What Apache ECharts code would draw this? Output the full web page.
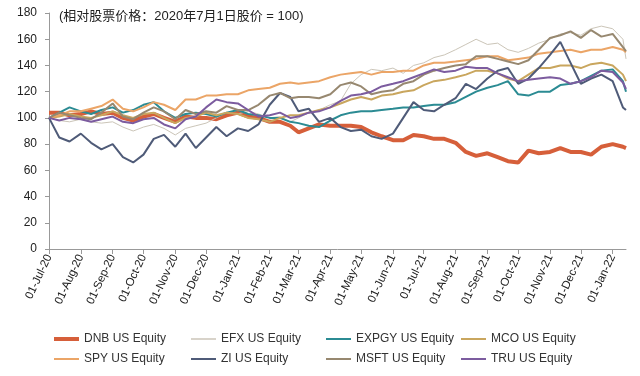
<!DOCTYPE html>
<html><head><meta charset="utf-8">
<script src="https://cdn.jsdelivr.net/npm/echarts@6/dist/echarts.min.js"></script>
<style>html,body{margin:0;padding:0;background:#fff}#c{width:640px;height:376px}</style>
</head><body><div id="c"></div>
<script>
const sampleDates = [
 '2020-07-01','2020-07-11','2020-07-21','2020-08-01','2020-08-11','2020-08-21','2020-09-01','2020-09-11','2020-09-21',
 '2020-10-01','2020-10-11','2020-10-21','2020-11-01','2020-11-11','2020-11-21','2020-12-01','2020-12-11','2020-12-21',
 '2021-01-01','2021-01-11','2021-01-21','2021-02-01','2021-02-11','2021-02-21','2021-03-01','2021-03-11','2021-03-21',
 '2021-04-01','2021-04-11','2021-04-21','2021-05-01','2021-05-11','2021-05-21','2021-06-01','2021-06-11','2021-06-21',
 '2021-07-01','2021-07-11','2021-07-21','2021-08-01','2021-08-11','2021-08-21','2021-09-01','2021-09-11','2021-09-21',
 '2021-10-01','2021-10-11','2021-10-21','2021-11-01','2021-11-11','2021-11-21','2021-12-01','2021-12-11','2021-12-21',
 '2022-01-01','2022-01-11','2022-01-14'];
const dnb  = [104,104,102,103,105,103,104,100,98,101,103,100,97,101,100,100,99,102,104,101,100,97,97,94,89,92,95,94,94,94,93,89,86,83,83,87,86,84,84,81,74,71,73,70,67,66,75,73,74,77,74,74,72,78,80,78,77];
const efx  = [100,98,97,99,97,96,97,93,90,93,95,92,87,92,94,96,100,104,103,105,103,100,101,97,100,104,106,110,113,126,133,137,136,138,134,140,142,146,148,152,156,160,156,157,152,150,153,157,160,164,165,163,168,170,168,160,145];
const expgy= [100,104,108,105,103,106,108,104,106,110,112,105,100,103,104,103,101,104,106,103,102,100,100,97,96,94,93,98,102,104,105,105,106,107,108,108,109,110,110,112,116,120,123,125,128,118,117,120,120,125,126,128,132,136,137,128,120];
const mco  = [100,101,103,101,100,102,105,102,100,103,104,100,96,100,101,104,102,104,103,100,99,97,100,102,102,104,106,108,111,114,116,114,117,118,120,121,125,128,129,131,133,136,136,134,130,128,133,138,138,140,140,138,141,142,140,133,128];
const spy  = [100,102,105,105,107,109,114,107,105,108,112,110,106,114,114,117,117,118,118,121,122,123,126,127,126,127,128,131,133,134,135,133,135,135,136,136,140,142,142,143,144,145,147,147,144,145,146,149,150,151,152,150,152,152,154,152,150];
const zi   = [100,85,82,88,81,76,80,70,66,72,84,87,78,88,77,85,93,86,92,90,95,110,119,116,105,107,97,100,93,90,91,86,84,88,100,112,106,105,110,115,126,122,130,136,138,126,130,138,148,158,142,126,130,133,128,108,106];
const msft = [100,104,102,100,99,104,111,101,99,104,108,105,99,106,103,105,104,109,106,106,110,117,119,115,116,116,115,118,125,127,124,118,120,121,126,128,133,136,138,140,141,147,147,145,143,141,144,152,161,163,166,161,167,162,164,154,151];
const tru  = [100,98,100,99,97,99,101,97,96,99,100,95,92,99,101,108,114,112,111,106,101,102,104,100,101,104,105,108,113,117,118,120,124,126,128,131,134,137,135,136,139,138,138,134,131,128,129,130,131,130,126,128,131,136,135,127,122];
const seriesNames = ['DNB US Equity','EFX US Equity','EXPGY US Equity','MCO US Equity','SPY US Equity','ZI US Equity','MSFT US Equity','TRU US Equity'];
const seriesValues = [dnb, efx, expgy, mco, spy, zi, msft, tru];
const yTicks = [0,20,40,60,80,100,120,140,160,180];
const titleText = '(相对股票价格：2020年7月1日股价 = 100)';
const startDate = '2020-07-01', endDate = '2022-01-14';

const colors = ['#D65F3A','#CBC5B8','#2B8B93','#C9A65E','#EBA567','#4F5B78','#978870','#7C5C9F'];
const widths = [4,1,2,2,2,2,2,2];
const months = ['Jan','Feb','Mar','Apr','May','Jun','Jul','Aug','Sep','Oct','Nov','Dec'];

const days = [];
(function(){
  let d = new Date(startDate + 'T00:00:00Z');
  const e = new Date(endDate + 'T00:00:00Z');
  while (d <= e) { days.push(d.toISOString().slice(0,10)); d = new Date(d.getTime() + 86400000); }
})();
const dayIndex = {}; days.forEach((d,i)=>dayIndex[d]=i);

const series = seriesNames.map((name, si) => {
  const arr = new Array(days.length).fill(null);
  sampleDates.forEach((sd, k) => { arr[dayIndex[sd]] = seriesValues[si][k]; });
  return {
    name, type: 'line', data: arr, connectNulls: true, symbol: 'none', showSymbol: false,
    lineStyle: { color: colors[si], width: widths[si] }, itemStyle: { color: colors[si] },
    emphasis: { disabled: true }, animation: false, z: si === 0 ? 1 : 2
  };
});

const legendCols = [54, 191, 326, 461];
const legendRows = [332, 352];
const legends = seriesNames.map((name, i) => ({
  data: [{ name, icon: 'rect' }], left: legendCols[i % 4], top: legendRows[Math.floor(i / 4)],
  itemWidth: 25, itemHeight: Math.max(widths[i], 1.5), padding: 0, selectedMode: false,
  itemStyle: { color: colors[i], borderWidth: 0 },
  textStyle: { fontSize: 12, color: '#333', fontFamily: 'Liberation Sans, Arial, sans-serif', lineHeight: 14 }
}));

const isMonthStart = (idx, v) => v.slice(8) === '01';
const chart = echarts.init(document.getElementById('c'), null, { renderer: 'canvas' });
chart.setOption({
  animation: false,
  backgroundColor: '#fff',
  title: { text: titleText, left: 54, top: 5, textStyle: { fontSize: 13, fontWeight: 'normal', color: '#222', fontFamily: 'Liberation Sans, Noto Sans CJK SC, sans-serif' } },
  legend: legends,
  grid: { left: 49, right: 14, top: 13, bottom: 127 },
  xAxis: {
    type: 'category', data: days, boundaryGap: false,
    axisLine: { lineStyle: { color: '#999' } },
    axisTick: { show: true, interval: isMonthStart, length: 5, lineStyle: { color: '#999' } },
    axisLabel: {
      interval: isMonthStart, rotate: 65, margin: 6, fontSize: 11.5, color: '#222',
      fontFamily: 'Liberation Sans, Arial, sans-serif',
      formatter: v => { const p = v.split('-'); return p[2] + '-' + months[+p[1]-1] + '-' + p[0].slice(2); }
    },
    splitLine: { show: false }
  },
  yAxis: {
    type: 'value', min: yTicks[0], max: yTicks[yTicks.length-1], interval: 20,
    axisLine: { show: true, lineStyle: { color: '#999' } },
    axisTick: { show: true, length: 4, lineStyle: { color: '#999' } },
    axisLabel: { fontSize: 12, color: '#222', margin: 12, fontFamily: 'Liberation Sans, Arial, sans-serif' },
    splitLine: { show: false }
  },
  series
});
</script></body></html>
